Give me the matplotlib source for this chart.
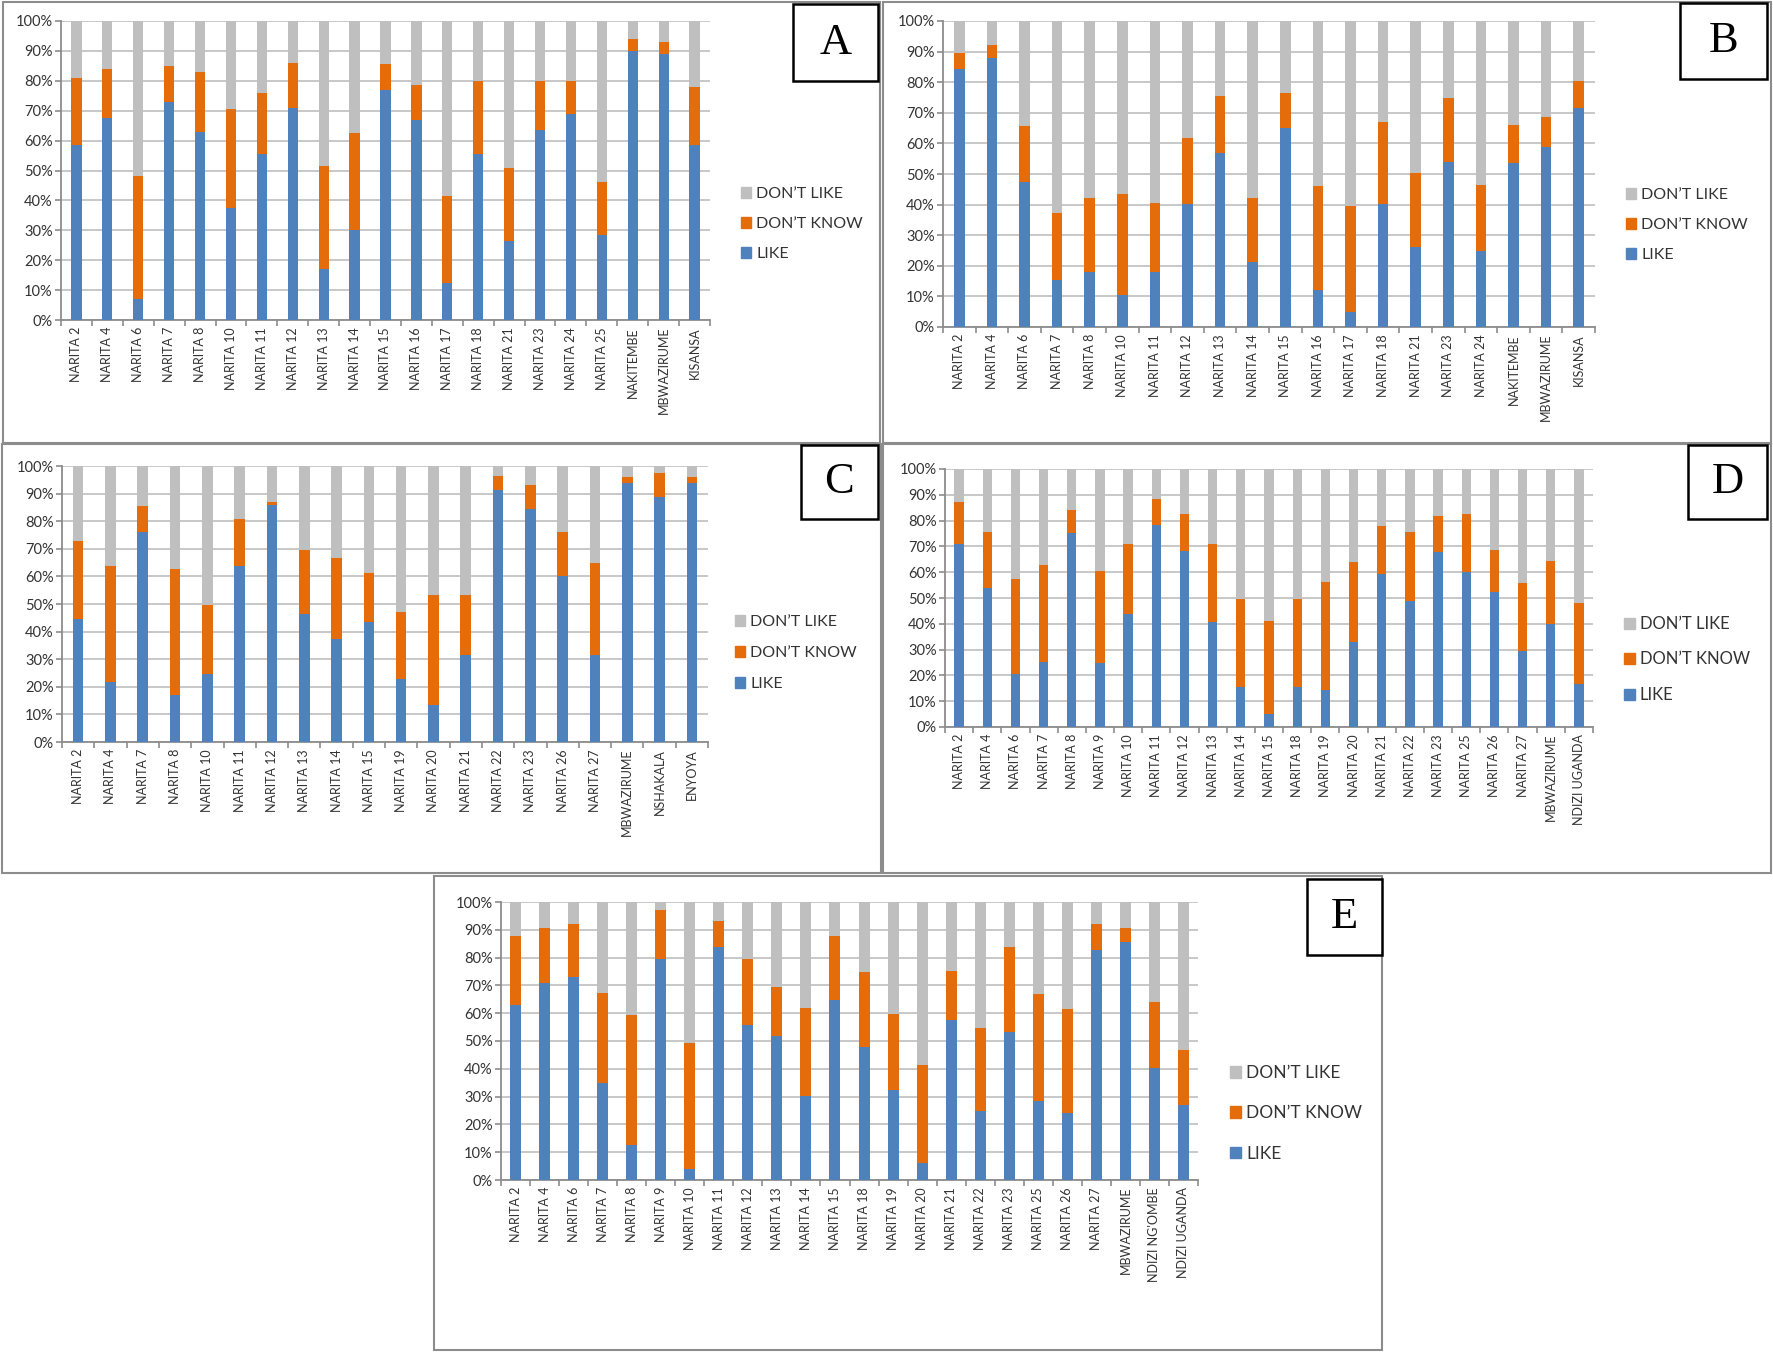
import matplotlib
matplotlib.use("Agg")
import matplotlib.pyplot as plt
from matplotlib.patches import Rectangle, Patch
from matplotlib.ticker import FixedLocator, PercentFormatter

plt.rcParams["font.family"] = ["Lato", "DejaVu Sans"]

# ---- data (percent of respondents) ----
a_cats = ["NARITA 2", "NARITA 4", "NARITA 6", "NARITA 7", "NARITA 8", "NARITA 10",
          "NARITA 11", "NARITA 12", "NARITA 13", "NARITA 14", "NARITA 15", "NARITA 16",
          "NARITA 17", "NARITA 18", "NARITA 21", "NARITA 23", "NARITA 24", "NARITA 25",
          "NAKITEMBE", "MBWAZIRUME", "KISANSA"]
a_like = [58.5, 67.5, 7, 73, 63, 37.5, 55.5, 71, 17, 30, 77, 67, 12.5, 55.5, 26.5, 63.5, 69, 28.5, 90, 89, 58.5]
a_dk = [22.5, 16.5, 41, 12, 20, 33, 20.5, 15, 34.5, 32.5, 8.5, 11.5, 29, 24.5, 24.5, 16.5, 11, 17.5, 4, 4, 19.5]
a_dl = [19, 16, 52, 15, 17, 29.5, 24, 14, 48.5, 37.5, 14.5, 21.5, 58.5, 20, 49, 20, 20, 54, 6, 7, 22]

b_cats = ["NARITA 2", "NARITA 4", "NARITA 6", "NARITA 7", "NARITA 8", "NARITA 10",
          "NARITA 11", "NARITA 12", "NARITA 13", "NARITA 14", "NARITA 15", "NARITA 16",
          "NARITA 17", "NARITA 18", "NARITA 21", "NARITA 23", "NARITA 24",
          "NAKITEMBE", "MBWAZIRUME", "KISANSA"]
b_like = [84.3, 87.8, 47.4, 15.5, 18, 10.3, 18, 40.1, 56.9, 21.4, 65.1, 12, 4.9, 40.1, 26, 54, 24.9, 53.7, 58.9, 71.6]
b_dk = [5.2, 4.5, 18.3, 21.9, 24.3, 33.2, 22.5, 21.8, 18.6, 20.9, 11.4, 34.1, 34.5, 26.8, 24.2, 20.7, 21.6, 12.3, 9.8, 8.7]
b_dl = [10.5, 7.7, 34.3, 62.6, 57.7, 56.5, 59.5, 38.1, 24.5, 57.7, 23.5, 53.9, 60.6, 33.1, 49.8, 25.3, 53.5, 34, 31.3, 19.7]

c_cats = ["NARITA 2", "NARITA 4", "NARITA 7", "NARITA 8", "NARITA 10", "NARITA 11",
          "NARITA 12", "NARITA 13", "NARITA 14", "NARITA 15", "NARITA 19", "NARITA 20",
          "NARITA 21", "NARITA 22", "NARITA 23", "NARITA 26", "NARITA 27",
          "MBWAZIRUME", "NSHAKALA", "ENYOYA"]
c_like = [44.5, 21.8, 76.2, 16.9, 24.5, 63.9, 85.8, 46.4, 37.2, 43.3, 23, 13.3, 31.4, 91.4, 84.4, 60.2, 31.5, 93.7, 88.7, 93.7]
c_dk = [28.4, 42, 9.4, 45.7, 25, 16.8, 1.2, 23.1, 29.5, 18.1, 24, 39.9, 21.8, 5, 8.7, 15.8, 33.3, 2.4, 8.8, 2.4]
c_dl = [27.1, 36.2, 14.4, 37.4, 50.5, 19.3, 13, 30.5, 33.3, 38.6, 53, 46.8, 46.8, 3.6, 6.9, 24, 35.2, 3.9, 2.5, 3.9]

d_cats = ["NARITA 2", "NARITA 4", "NARITA 6", "NARITA 7", "NARITA 8", "NARITA 9",
          "NARITA 10", "NARITA 11", "NARITA 12", "NARITA 13", "NARITA 14", "NARITA 15",
          "NARITA 18", "NARITA 19", "NARITA 20", "NARITA 21", "NARITA 22", "NARITA 23",
          "NARITA 25", "NARITA 26", "NARITA 27", "MBWAZIRUME", "NDIZI UGANDA"]
d_like = [70.8, 54, 20.7, 25.2, 75.2, 24.8, 43.9, 78.4, 68.3, 40.7, 15.5, 4.9, 15.5, 14.5, 32.9, 59.4, 48.7, 67.8, 60.1, 52.3, 29.4, 39.8, 16.5]
d_dk = [16.3, 21.7, 36.5, 37.5, 8.9, 35.7, 26.9, 10.1, 14.3, 30.4, 34, 36.1, 34, 41.6, 30.9, 18.4, 27, 14.1, 22.5, 16.3, 26.6, 24.7, 31.4]
d_dl = [12.9, 24.3, 42.8, 37.3, 15.9, 39.5, 29.2, 11.5, 17.4, 28.9, 50.5, 59, 50.5, 43.9, 36.2, 22.2, 24.3, 18.1, 17.4, 31.4, 44, 35.5, 52.1]

e_cats = ["NARITA 2", "NARITA 4", "NARITA 6", "NARITA 7", "NARITA 8", "NARITA 9",
          "NARITA 10", "NARITA 11", "NARITA 12", "NARITA 13", "NARITA 14", "NARITA 15",
          "NARITA 18", "NARITA 19", "NARITA 20", "NARITA 21", "NARITA 22", "NARITA 23",
          "NARITA 25", "NARITA 26", "NARITA 27", "MBWAZIRUME", "NDIZI NG'OMBE", "NDIZI UGANDA"]
e_like = [62.8, 70.9, 73, 34.8, 12.5, 79.4, 4.1, 83.7, 55.9, 51.9, 30.1, 64.6, 47.7, 32.5, 6.2, 57.7, 24.8, 53.3, 28.3, 24.1, 82.8, 85.5, 40.3, 26.8]
e_dk = [25, 19.9, 19.1, 32.5, 46.9, 17.8, 45.1, 9.3, 23.6, 17.7, 31.6, 23.2, 27.2, 27.3, 35, 17.6, 29.9, 30.4, 38.6, 37.5, 9.2, 5.3, 23.7, 20.1]
e_dl = [12.2, 9.2, 7.9, 32.7, 40.6, 2.8, 50.8, 7, 20.5, 30.4, 38.3, 12.2, 25.1, 40.2, 58.8, 24.7, 45.3, 16.3, 33.1, 38.4, 8, 9.2, 36, 53.1]

BLUE = "#4f81bd"
ORANGE = "#e46c0a"
GREY = "#bfbfbf"
TXT = "#333333"

W, H = 1774, 1353
fig = plt.figure(figsize=(W / 100, H / 100), dpi=100)


def fx(x):
    return x / W


def fy(y):
    return 1 - y / H


def frame(x0, y0, x1, y1, color="#8c8c8c", lw=1.5, fill=False, z=0):
    fig.patches.append(Rectangle((fx(x0), fy(y1)), fx(x1) - fx(x0), fy(y0) - fy(y1),
                                 transform=fig.transFigure, fill=fill, facecolor="white",
                                 edgecolor=color, linewidth=lw, zorder=z))


def panel(box, axbox, cats, like, dk, dl, letter, letterbox, leg_xy, width=0.33,
          leg_size=11.5, leg_space=1.0, xt_size=9):
    frame(*box)
    x0, y0, x1, y1 = axbox
    ax = fig.add_axes([fx(x0), fy(y1), fx(x1) - fx(x0), fy(y0) - fy(y1)])
    pos = list(range(len(cats)))
    bottom2 = [a + b for a, b in zip(like, dk)]
    ax.bar(pos, like, width, color=BLUE, zorder=3)
    ax.bar(pos, dk, width, bottom=like, color=ORANGE, zorder=3)
    ax.bar(pos, dl, width, bottom=bottom2, color=GREY, zorder=3)
    ax.set_xlim(-0.5, len(cats) - 0.5)
    ax.set_ylim(0, 100)
    ax.set_yticks(range(0, 101, 10))
    ax.yaxis.set_major_formatter(PercentFormatter(decimals=0))
    ax.yaxis.grid(True, color="#c4c4c4", linewidth=1.3, zorder=0)
    ax.set_xticks(pos)
    ax.set_xticklabels(cats, rotation=90, fontsize=xt_size, color=TXT)
    ax.xaxis.set_minor_locator(FixedLocator([p - 0.5 for p in pos] + [len(cats) - 0.5]))
    ax.tick_params(axis="x", which="major", length=0, pad=5)
    ax.tick_params(axis="x", which="minor", length=4, color="#8c8c8c", width=1.2)
    ax.tick_params(axis="y", length=4, color="#8c8c8c", width=1.2, labelsize=10.5,
                   labelcolor=TXT, pad=2)
    for s in ["top", "right"]:
        ax.spines[s].set_visible(False)
    for s in ["left", "bottom"]:
        ax.spines[s].set_color("#8c8c8c")
        ax.spines[s].set_linewidth(1.3)
    handles = [Patch(color=GREY, label="DON\u2019T LIKE"),
               Patch(color=ORANGE, label="DON\u2019T KNOW"),
               Patch(color=BLUE, label="LIKE")]
    ax.legend(handles=handles, loc="upper left", bbox_to_anchor=(fx(leg_xy[0]), fy(leg_xy[1])),
              bbox_transform=fig.transFigure, frameon=False, fontsize=leg_size,
              handlelength=0.65, handleheight=0.65, handletextpad=0.3,
              labelspacing=leg_space, borderpad=0, borderaxespad=0, labelcolor=TXT)
    lx0, ly0, lx1, ly1 = letterbox
    frame(lx0, ly0, lx1, ly1, color="black", lw=1.8, fill=True, z=5)
    fig.text(fx((lx0 + lx1) / 2), fy((ly0 + ly1) / 2), letter, ha="center", va="center",
             fontsize=32, family="Liberation Serif", zorder=6)
    return ax


panel((3, 2, 880, 443), (61, 21, 710, 320), a_cats, a_like, a_dk, a_dl,
      "A", (793, 4, 878, 81), (741, 187))
panel((883, 2, 1771, 443), (943, 21, 1595, 327), b_cats, b_like, b_dk, b_dl,
      "B", (1680, 3, 1767, 79), (1626, 188))
panel((2, 444, 881, 873), (62, 466, 708, 742), c_cats, c_like, c_dk, c_dl,
      "C", (801, 445, 878, 519), (735, 615), leg_space=1.06)
panel((883, 444, 1771, 873), (945, 469, 1593, 727), d_cats, d_like, d_dk, d_dl,
      "D", (1688, 445, 1767, 519), (1624, 616), leg_size=12, leg_space=1.17)
panel((434, 876, 1382, 1350), (501, 902, 1198, 1180), e_cats, e_like, e_dk, e_dl,
      "E", (1307, 879, 1382, 955), (1230, 1065), width=0.38, leg_size=12.5, leg_space=1.4)

fig.savefig("out.png", dpi=100)
